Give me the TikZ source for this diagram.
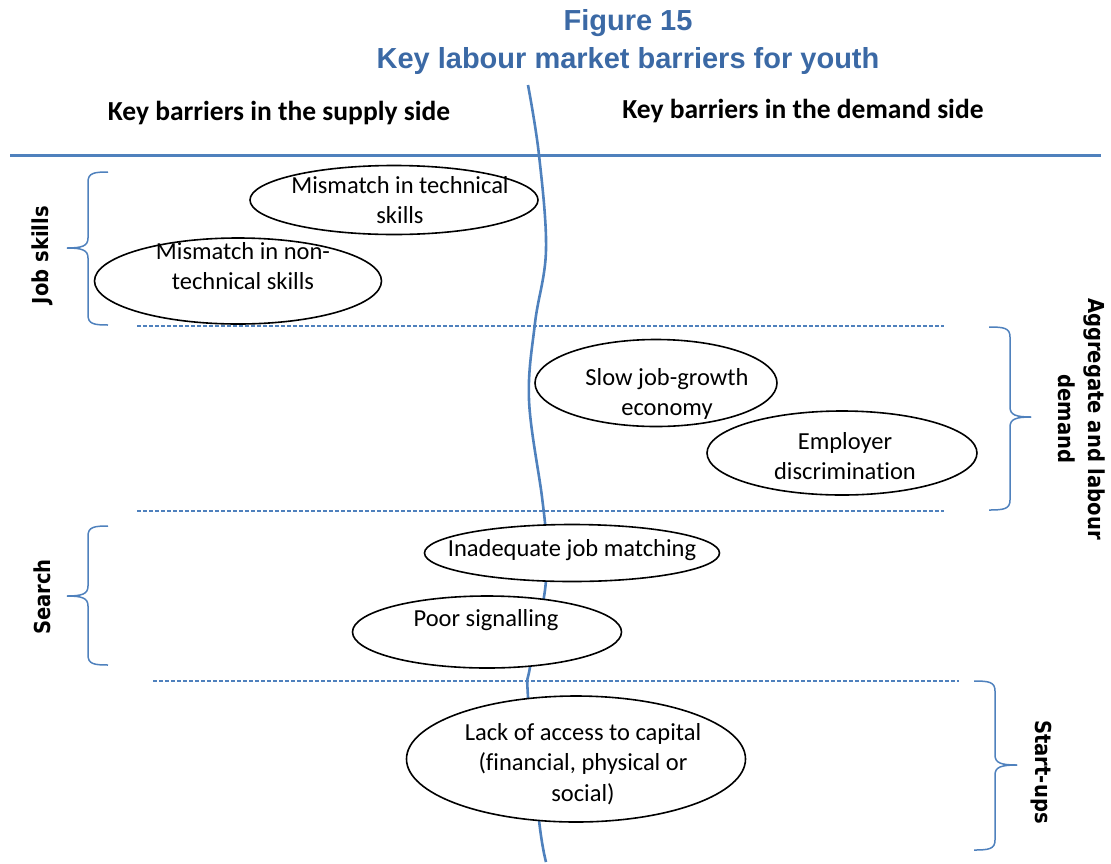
\documentclass[tikz,border=0pt]{standalone}
\usepackage{fontspec}
\usepackage{graphicx}
\setmainfont[Ligatures=CommonOff]{Carlito}
\newfontfamily\titlefont{Liberation Sans}
\newfontfamily\sidefont[BoldFont={DejaVu Sans Bold}]{DejaVu Sans}
\usetikzlibrary{shapes.geometric}
\definecolor{lineblue}{HTML}{4F81BD}
\definecolor{titleblue}{RGB}{59,105,165}
\newcommand{\squeeze}[1]{\scalebox{0.89}[1]{#1}}
\tikzset{
  bubble/.style={draw=black, line width=1.6pt, fill=white, ellipse, inner sep=0pt},
  bubbletext/.style={align=center, inner sep=0pt, font=\fontsize{24.5}{30.5}\selectfont},
  headtext/.style={font=\bfseries\fontsize{27.5}{32}\selectfont, inner sep=0pt},
  sidetext/.style={font=\sidefont\bfseries\fontsize{22}{30}\selectfont, inner sep=0pt, align=center},
  titletext/.style={font=\titlefont\bfseries\fontsize{29}{34}\selectfont, text=titleblue, inner sep=0pt},
  bracestyle/.style={draw=lineblue, line width=1.5pt},
  sepline/.style={draw=lineblue, line width=1.2pt, dash pattern=on 4pt off 2pt},
}
\begin{document}
\begin{tikzpicture}[x=1pt,y=-1pt]
\useasboundingbox (0,0) rectangle (1111,863);

% titles
\node[titletext] (fig) at (628,23) {Figure 15};
\node[titletext] (ttl) at (628,61) {Key labour market barriers for youth};

% headers
\node[headtext] (hsup) at (279,113) {Key barriers in the supply side};
\node[headtext] (hdem) at (803,111) {Key barriers in the demand side};

% horizontal line
\draw[lineblue, line width=3pt] (10,155) -- (1101,155);

% wavy divider
\draw[lineblue, line width=2.6pt] plot[smooth, tension=0.6] coordinates {
  (528,85) (539,155) (546,250) (535,323) (529,400) (542,497) (546,540)
  (545,590) (530,667) (528,697) (539,820) (546,862)};

% dashed separators
\coordinate (d1a) at (137,326); \coordinate (d1b) at (944,326);
\coordinate (d2a) at (137,511); \coordinate (d2b) at (944,511);
\coordinate (d3a) at (153,681); \coordinate (d3b) at (959,681);
\draw[sepline] (d1a) -- (d1b);
\draw[sepline] (d2a) -- (d2b);
\draw[sepline] (d3a) -- (d3b);

% ellipses
\node[bubble, minimum width=288pt, minimum height=69pt] (e1) at (394,200) {};
\node[bubble, minimum width=287pt, minimum height=86pt] (e2) at (238,281) {};
\node[bubble, minimum width=242pt, minimum height=87pt] (e3) at (656,383) {};
\node[bubble, minimum width=270pt, minimum height=84pt] (e4) at (842,453) {};
\node[bubble, minimum width=295pt, minimum height=57pt] (e5) at (572,553) {};
\node[bubble, minimum width=269pt, minimum height=72pt] (e6) at (487,632) {};
\node[bubble, minimum width=339pt, minimum height=126pt] (e7) at (576,759) {};

\node[bubbletext] (t1) at (400,200) {Mismatch in technical\\skills};
\node[bubbletext] (t2) at (243,266) {Mismatch in non-\\technical skills};
\node[bubbletext] (t3) at (667,394) {Slow job-growth\\economy};
\node[bubbletext] (t4) at (845,456) {Employer\\discrimination};
\node[bubbletext] (t5) at (572,550) {Inadequate job matching};
\node[bubbletext] (t6) at (486,620) {Poor signalling};
\node[bubbletext] (t7) at (583,764) {Lack of access to capital\\(financial, physical or\\social)};

% braces
% Job skills
\draw[bracestyle] (108,172) .. controls (94,172) and (88,173) .. (88,182) -- (88,238)
  .. controls (88,246) and (82,248) .. (67,248);
\draw[bracestyle] (67,248) .. controls (82,248) and (88,250) .. (88,258) -- (88,315)
  .. controls (88,324) and (94,325) .. (108,325);
% Search
\draw[bracestyle] (108,526) .. controls (94,526) and (88,527) .. (88,536) -- (88,586)
  .. controls (88,594) and (82,596) .. (67,596);
\draw[bracestyle] (67,596) .. controls (82,596) and (88,598) .. (88,606) -- (88,655)
  .. controls (88,664) and (94,665) .. (108,665);
% Aggregate
\draw[bracestyle] (989,327) .. controls (1004,327) and (1010,328) .. (1010,337) -- (1010,407)
  .. controls (1010,415) and (1016,417) .. (1031,417);
\draw[bracestyle] (1031,417) .. controls (1016,417) and (1010,419) .. (1010,427) -- (1010,500)
  .. controls (1010,509) and (1004,510) .. (989,510);
% Start-ups
\draw[bracestyle] (974,681) .. controls (989,681) and (995,682) .. (995,691) -- (995,755)
  .. controls (995,763) and (1001,765) .. (1017,765);
\draw[bracestyle] (1017,765) .. controls (1001,765) and (995,767) .. (995,775) -- (995,840)
  .. controls (995,849) and (989,850) .. (974,850);

% side labels
\node[sidetext, rotate=90] (s1) at (42,255) {\squeeze{Job skills}};
\node[sidetext, rotate=90] (s2) at (42,597) {\squeeze{Search}};
\node[sidetext, rotate=-90] (s3) at (1082,419) {\squeeze{Aggregate and labour}\\\squeeze{demand}};
\node[sidetext, rotate=-90] (s4) at (1041,772) {\squeeze{Start-ups}};
\end{tikzpicture}
\end{document}
